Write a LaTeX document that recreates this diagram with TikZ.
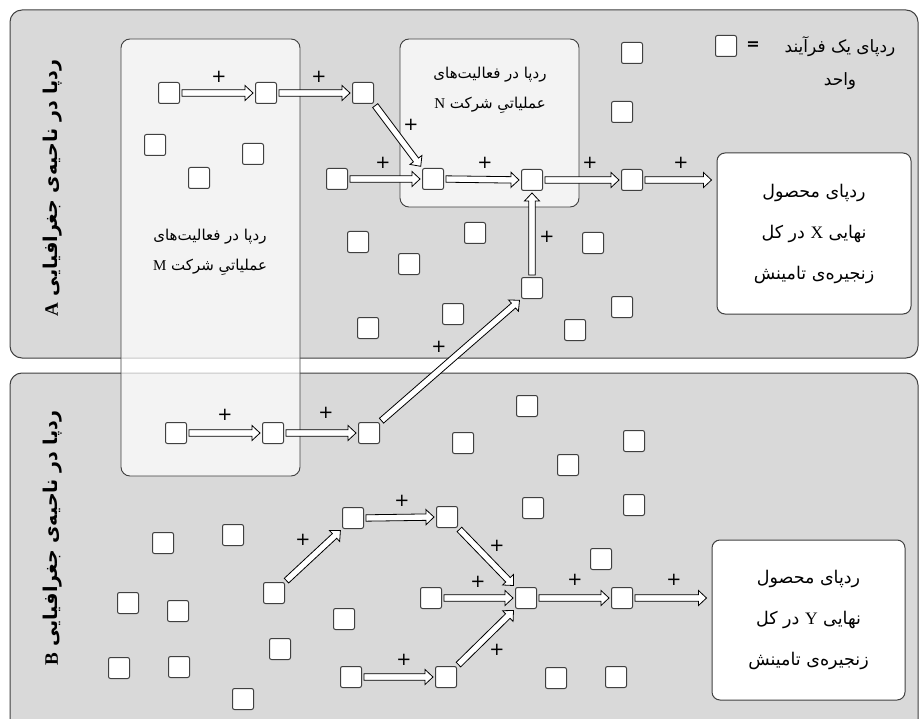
\documentclass[tikz,border=0pt]{standalone}
\usepackage{fontspec}
\setmainfont{Liberation Serif}
\newfontfamily\arabicfont[Script=Arabic]{DejaVu Sans}
\newfontfamily\plusfont{DejaVu Sans}
\TeXXeTstate=1
\usetikzlibrary{calc}
\newcommand\fatext[1]{{\arabicfont\beginR #1\endR}}
\newcommand\lat[1]{{\rmfamily #1}}
\definecolor{panelgray}{HTML}{D9D9D9}
\definecolor{edgegray}{HTML}{404040}
\begin{document}
\begin{tikzpicture}[x=1pt,y=-1pt,
  panel/.style={draw=edgegray,line width=1pt,fill=panelgray,rounded corners=12pt},
  firm/.style={draw=edgegray,line width=0.9pt,fill=white,fill opacity=0.7,rounded corners=9pt},
  prod/.style={draw=edgegray,line width=1pt,fill=white,rounded corners=8pt},
  sq/.style={draw=edgegray,line width=1pt,fill=white,minimum size=21pt,inner sep=0pt,rounded corners=2pt},
  plabel/.style={font=\plusfont\fontsize{18}{18}\selectfont,inner sep=0pt},
  ftxt/.style={font=\fontsize{15}{18}\selectfont,align=center,inner sep=0pt},
  ptxt/.style={font=\fontsize{17.5}{20}\selectfont,align=center},
  rlabel/.style={rotate=90,font=\fontsize{19}{19}\selectfont\bfseries,inner sep=0pt},
  barrow/.style={draw=black,line width=0.8pt,fill=white,to path={
    let \p1=($(\tikztostart)!2pt!(\tikztotarget)$), \p2=($(\tikztotarget)!2pt!(\tikztostart)$),
        \n1={atan2(\y2-\y1,\x2-\x1)}, \n2={veclen(\x2-\x1,\y2-\y1)}, \n3={\n2-8pt} in
    [shift={(\p1)},rotate=\n1]
    (0pt,-3.2pt) -- (\n3,-3.2pt) -- (\n3,-7.5pt) -- (\n2,0pt) -- (\n3,7.5pt) -- (\n3,3.2pt) -- (0pt,3.2pt) -- cycle}}
]
\useasboundingbox (0,0) rectangle (920,719);
\fill[white] (0,0) rectangle (920,719);
% panels
\draw[panel] (10,10) rectangle (918,358);
\draw[panel] (10,373) rectangle (918,740);
% region labels
\node[rlabel] (labA) at (53,188) {\fatext{ردپا در ناحیه‌ی جغرافیایی \lat{A}}};
\node[rlabel] (labB) at (53,538) {\fatext{ردپا در ناحیه‌ی جغرافیایی \lat{B}}};
% firm boxes
\draw[firm] (121,39) rectangle (300,476);
\draw[firm] (400,39) rectangle (579,207);
\node[ftxt] (txtM) at (210,252) {\fatext{ردپا در فعالیت‌های}\\[12pt]\fatext{عملیاتیِ شرکت \lat{M}}};
\node[ftxt] (txtN) at (490,90) {\fatext{ردپا در فعالیت‌های}\\[12pt]\fatext{عملیاتیِ شرکت \lat{N}}};
% product boxes
\node[prod,ptxt,minimum width=194pt,minimum height=161pt] (X) at (814,233.5)
  {\fatext{ردپای محصول}\\[21pt]\fatext{نهایی \lat{X} در کل}\\[21pt]\fatext{زنجیره‌ی تامینش}};
\node[prod,ptxt,minimum width=193pt,minimum height=160pt] (Y) at (808.5,620)
  {\fatext{ردپای محصول}\\[21pt]\fatext{نهایی \lat{Y} در کل}\\[21pt]\fatext{زنجیره‌ی تامینش}};
% legend
\node[sq] (L) at (726,46) {};
\node[font=\plusfont\fontsize{16}{16}\selectfont\bfseries,inner sep=0pt] (eq) at (753,46) {=};
\node[ftxt,font=\fontsize{17}{20}\selectfont] (legtxt) at (840,63.5) {\fatext{ردپای یک فرآیند}\\[13pt]\fatext{واحد}};
% squares, region A
\foreach \n/\x/\y in {A1/169/93,A2/266/93,A3/363/93,A4/155/145,A5/253/154,A6/199/178,A7/337/179,
  A8/433/179,A9/532/180,A10/632/180,A11/632/53,A12/622/112,A13/358/242,A14/409/264,A15/475/233,
  A16/593/243,A17/532/288,A18/622/307,A19/575/330,A20/368/328,A21/453/314}
  \node[sq] (\n) at (\x,\y) {};
% squares, region B
\foreach \n/\x/\y in {B1/176/433,B2/273/433,B3/369/433,B4/527/406,B5/463/443,B6/634/441,B7/568/465,
  B8/533/508,B9/634/505,B10/163/543,B11/233/535,B12/353/518,B13/447/517,B14/274/593,B15/128/603,
  B16/178/611,B17/344/619,B18/431/598,B19/526/598,B20/622/598,B21/601/559,B22/280/649,B23/119/668,
  B24/179/667,B25/351/677,B26/446/677,B27/243/699,B28/556/678,B29/616/677}
  \node[sq] (\n) at (\x,\y) {};
% arrows region A
\draw[barrow] (A1.east) to (A2.west);
\draw[barrow] (A2.east) to (A3.west);
\draw[barrow] (A3.south east) to (A8.north west);
\draw[barrow] (A7.east) to (A8.west);
\draw[barrow] (A8.east) to (A9.west);
\draw[barrow] (A9.east) to (A10.west);
\draw[barrow] (A10.east) to ($(A10.east -| X.west)+(-3,0)$);
\draw[barrow] (A17.north) to (A9.south);
\draw[barrow] (B3.north east) to (A17.south west);
% arrows region B
\draw[barrow] (B1.east) to (B2.west);
\draw[barrow] (B2.east) to (B3.west);
\draw[barrow] (B14.north east) to (B12.south west);
\draw[barrow] (B12.east) to (B13.west);
\draw[barrow] (B13.south east) to (B19.north west);
\draw[barrow] (B18.east) to (B19.west);
\draw[barrow] (B25.east) to (B26.west);
\draw[barrow] (B26.north east) to (B19.south west);
\draw[barrow] (B19.east) to (B20.west);
\draw[barrow] (B20.east) to ($(B20.east -| Y.west)+(-3,0)$);
% plus labels
\foreach \n/\x/\y in {p1/219/77,p2/319/77,p3/411/125,p4/383/163,p5/485/163,p6/590/163,p7/681/163,
  p8/547/237,p9/439/347,q1/225/415,q2/326/413,q3/303/540,q4/402/501,q5/497/546,q6/478/582,
  q7/404/660,q8/497/650,q9/575/580,q10/674/580}
  \node[plabel] (\n) at (\x,\y) {+};
\end{tikzpicture}
\end{document}
